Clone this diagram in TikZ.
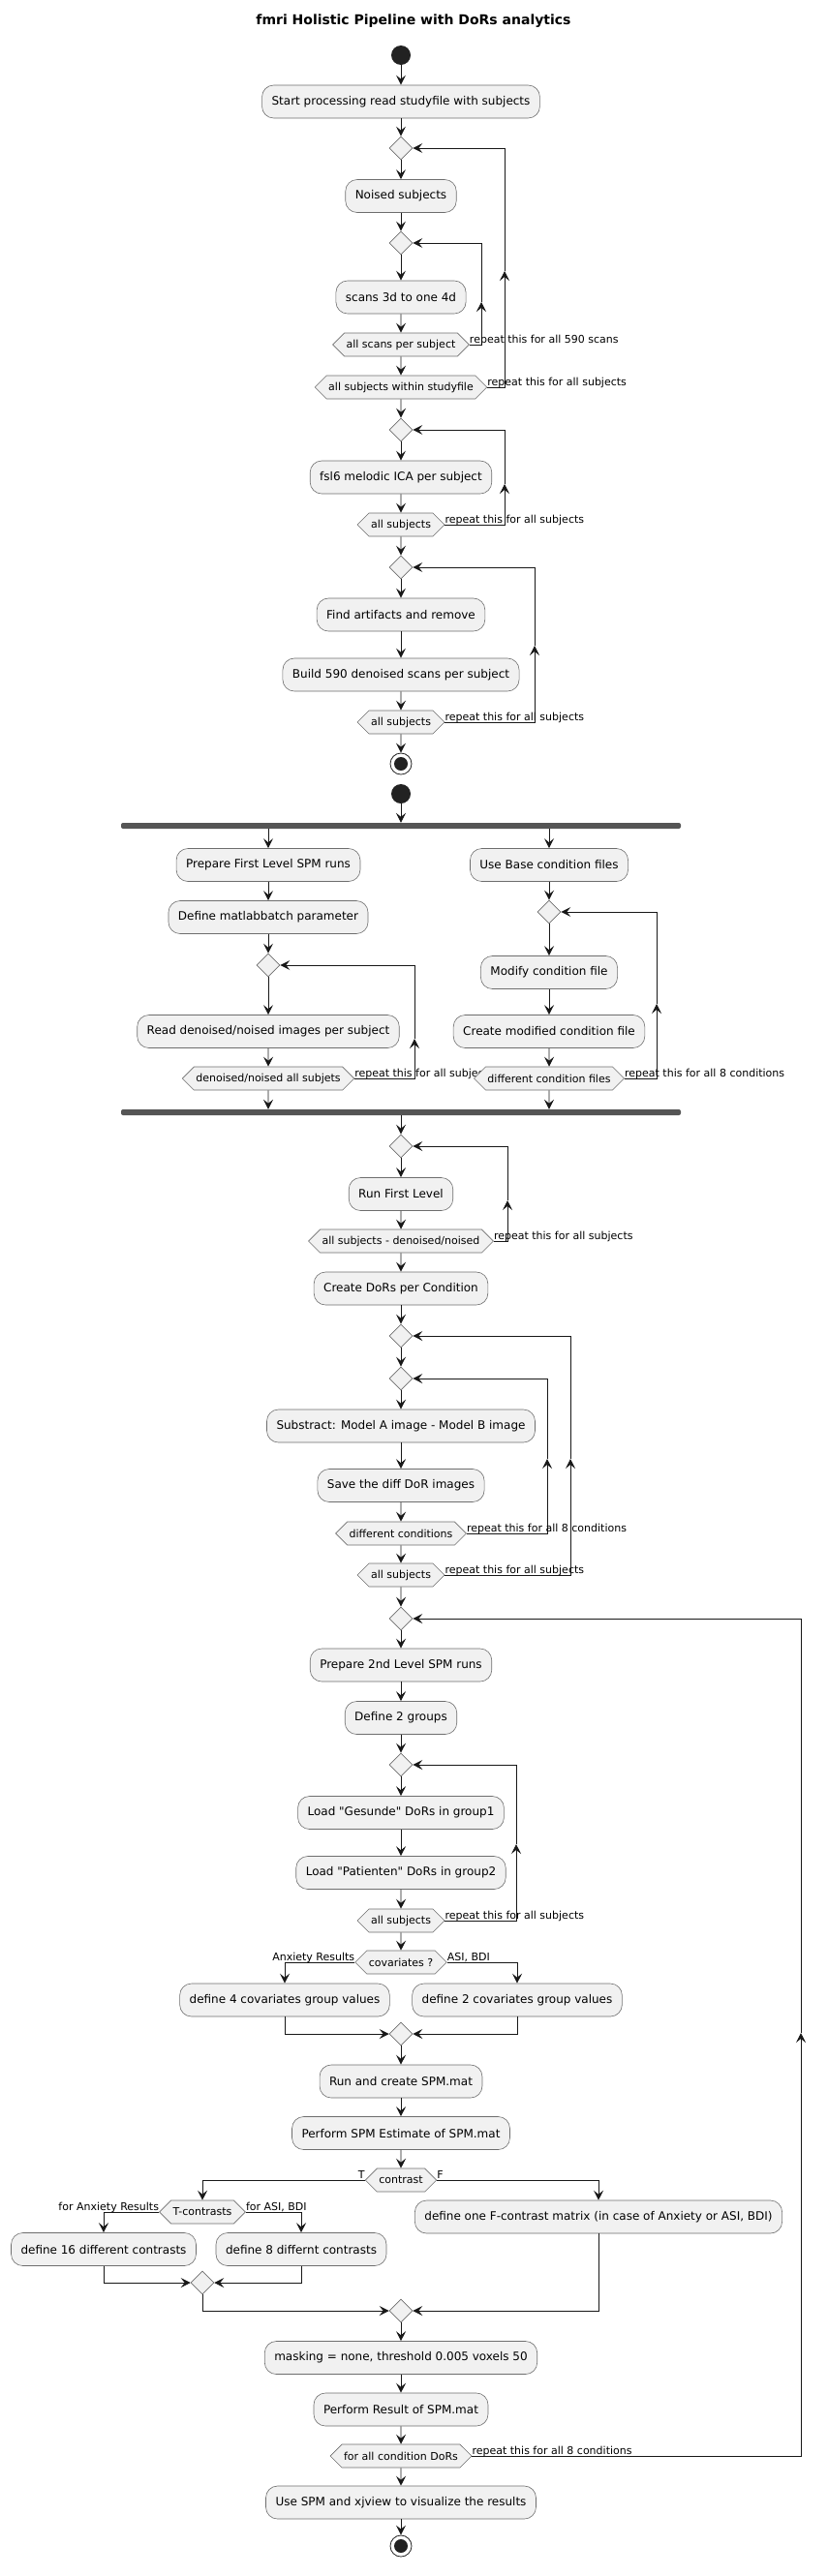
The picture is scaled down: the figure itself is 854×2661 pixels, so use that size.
\documentclass[tikz,border=0pt]{standalone}
\usepackage{fontspec}
\setmainfont{DejaVu Sans}
\usepackage{xcolor}
\usepackage{tikz}
\usetikzlibrary{positioning}
\usetikzlibrary{arrows.meta}
\usetikzlibrary{shapes.geometric,shapes.symbols}

\definecolor{boxfill}{HTML}{F1F1F1}
\definecolor{boxline}{HTML}{6E6E6E}
\definecolor{inkline}{HTML}{181818}
\definecolor{barfill}{HTML}{555555}
\definecolor{dotfill}{HTML}{222222}

\tikzset{
  act/.style={rectangle, rounded corners=12pt, draw=boxline, line width=0.6pt, fill=boxfill,
    minimum height=34pt, inner xsep=10pt, font=\fontsize{12}{14}\selectfont},
  hex/.style={signal, signal to=west and east, draw=boxline, line width=0.6pt, fill=boxfill,
    minimum height=24pt, inner xsep=2pt, inner ysep=0pt, font=\fontsize{11}{13}\selectfont},
  merge/.style={diamond, draw=boxline, line width=0.6pt, fill=boxfill, minimum width=24pt,
    minimum height=24pt, inner sep=0pt},
  startdot/.style={circle, fill=dotfill, minimum size=20pt, inner sep=0pt},
  stopdot/.style={circle, draw=dotfill, line width=0.8pt, fill=white, minimum size=22pt, inner sep=0pt,
    path picture={\fill[dotfill] (path picture bounding box.center) circle (7pt);}},
  bar/.style={rectangle, fill=barfill, rounded corners=2pt, minimum width=578pt, minimum height=6pt, inner sep=0pt},
  note/.style={font=\fontsize{11}{13}\selectfont, inner sep=0pt, anchor=base west, yshift=2pt},
  flow/.style={->, draw=inkline, line width=0.9pt},
}

\begin{document}
\begin{tikzpicture}[x=1pt, y=-1pt, >={Stealth[length=10pt, width=10pt, inset=4pt]}]
  \useasboundingbox (0,0) rectangle (854,2661);

  \node[font=\bfseries\fontsize{14}{16}\selectfont] (title) at (427,22) {fmri Holistic Pipeline with DoRs analytics};

  % Preprocessing part
  \node[startdot] (start) at (414,57) {};
  \node[act] (s1) at (414,105) {Start processing read studyfile with subjects};
  \node[merge] (d1) at (414,153) {};
  \node[act] (n1) at (414,202.5) {Noised subjects};
  \node[merge] (d2) at (414,251) {};
  \node[act] (n2) at (414,307) {scans 3d to one 4d};
  \node[hex] (h1) at (414,356) {all scans per subject};
  \node[hex] (h2) at (414,400) {all subjects within studyfile};
  \node[merge] (d3) at (414,444) {};
  \node[act] (n3) at (414,493) {fsl6 melodic ICA per subject};
  \node[hex] (h3) at (414,542) {all subjects};
  \node[merge] (d4) at (414,586) {};
  \node[act] (n4) at (414,635) {Find artifacts and remove};
  \node[act] (n5) at (414,697) {Build 590 denoised scans per subject};
  \node[hex] (h4) at (414,746) {all subjects};
  \node[stopdot] (stop1) at (414,789) {};

  % First level, two branches
  \node[startdot] (start2) at (414,820) {};
  \node[bar] (fork) at (414,853) {};
  \node[act] (p1) at (277,893.5) {Prepare First Level SPM runs};
  \node[act] (p2) at (277,947.5) {Define matlabbatch parameter};
  \node[merge] (dl) at (277,997) {};
  \node[act] (p3) at (277,1065.5) {Read denoised/noised images per subject};
  \node[hex] (hl) at (277,1114) {denoised/noised all subjets};
  \node[note] (tl) at (hl.east) {repeat this for all subjects}; % partly hidden by the right branch
  \node[act] (q1) at (567,893.5) {Use Base condition files};
  \node[merge] (dr) at (567,942) {};
  \node[act] (q2) at (567,1004.5) {Modify condition file};
  \node[act] (q3) at (567,1065.5) {Create modified condition file};
  \node[hex] (hr) at (567,1114) {different condition files};
  \node[bar] (join) at (414,1149) {};

  \node[merge] (d5) at (414,1184) {};
  \node[act] (n6) at (414,1233.5) {Run First Level};
  \node[hex] (h5) at (414,1282) {all subjects - denoised/noised};
  \node[act] (n7) at (414,1331) {Create DoRs per Condition};
  \node[merge] (d6) at (414,1380) {};
  \node[merge] (d7) at (414,1424) {};
  \node[act] (n8) at (414,1473) {Substract: Model A image - Model B image};
  \node[act] (n9) at (414,1534.5) {Save the diff DoR images};
  \node[hex] (h6) at (414,1584) {different conditions};
  \node[hex] (h7) at (414,1627) {all subjects};

  % Second level
  \node[merge] (d8) at (414,1672) {};
  \node[act] (n10) at (414,1720) {Prepare 2nd Level SPM runs};
  \node[act] (n11) at (414,1774.5) {Define 2 groups};
  \node[merge] (d9) at (414,1823) {};
  \node[act] (n12) at (414,1872.5) {Load \textquotedbl Gesunde\textquotedbl{} DoRs in group1};
  \node[act] (n13) at (414,1934.5) {Load \textquotedbl Patienten\textquotedbl{} DoRs in group2};
  \node[hex] (h8) at (414,1984) {all subjects};
  \node[hex] (cov) at (414,2027) {covariates ?};
  \node[act] (cov4) at (294,2066) {define 4 covariates group values};
  \node[act] (cov2) at (534,2066) {define 2 covariates group values};
  \node[merge] (m1) at (414,2101) {};
  \node[act] (n14) at (414,2150) {Run and create SPM.mat};
  \node[act] (n15) at (414,2203.5) {Perform SPM Estimate of SPM.mat};
  \node[hex] (con) at (414,2252) {contrast};
  \node[hex] (tcon) at (209,2285) {T-contrasts};
  \node[act] (fcon) at (618,2290) {define one F-contrast matrix (in case of Anxiety or ASI, BDI)};
  \node[act] (c16) at (107,2323.5) {define 16 different contrasts};
  \node[act] (c8) at (311,2323.5) {define 8 differnt contrasts};
  \node[merge] (m3) at (209,2358) {};
  \node[merge] (m4) at (414,2387) {};
  \node[act] (n16) at (414,2435.5) {masking = none, threshold 0.005 voxels 50};
  \node[act] (n17) at (414,2489) {Perform Result of SPM.mat};
  \node[hex] (h9) at (414,2537) {for all condition DoRs};
  \node[act] (n18) at (414,2585) {Use SPM and xjview to visualize the results};
  \node[stopdot] (stop2) at (414,2630) {};

  % straight arrows
  \foreach \a/\b in {start/s1, s1/d1, d1/n1, n1/d2, d2/n2, n2/h1, h1/h2, h2/d3, d3/n3, n3/h3, h3/d4,
      d4/n4, n4/n5, n5/h4, h4/stop1, start2/fork, p1/p2, p2/dl, dl/p3, p3/hl, q1/dr, dr/q2, q2/q3, q3/hr,
      join/d5, d5/n6, n6/h5, h5/n7, n7/d6, d6/d7, d7/n8, n8/n9, n9/h6, h6/h7, h7/d8, d8/n10, n10/n11,
      n11/d9, d9/n12, n12/n13, n13/h8, h8/cov, m1/n14, n14/n15, n15/con, m4/n16, n16/n17, n17/h9,
      h9/n18, n18/stop2}
    \draw[flow] (\a) -- (\b);

  % fork and join
  \draw[flow] (fork.south -| p1) -- (p1);
  \draw[flow] (fork.south -| q1) -- (q1);
  \draw[flow] (hl) -- (hl |- join.north);
  \draw[flow] (hr) -- (hr |- join.north);

  % repeat loops
  \coordinate (r1) at (497,312);
  \coordinate (r2) at (521,280);
  \coordinate (r3) at (521,500);
  \coordinate (r4) at (552,667);
  \coordinate (rl) at (428,1073);
  \coordinate (rr) at (678,1037);
  \coordinate (r5) at (524,1240);
  \coordinate (r6) at (565,1507);
  \coordinate (r7) at (589,1507);
  \coordinate (r8) at (533,1905);
  \coordinate (r9) at (827,2100);
  \foreach \h/\r/\d in {h1/r1/d2, h2/r2/d1, h3/r3/d3, h4/r4/d4, hl/rl/dl, hr/rr/dr, h5/r5/d5,
      h6/r6/d7, h7/r7/d6, h8/r8/d9, h9/r9/d8} {
    \draw[flow] (\h.east) -| (\r);
    \draw[flow] (\r) |- (\d);
  }
  \node[note] at (h1.east) {repeat this for all 590 scans};
  \node[note] at (h2.east) {repeat this for all subjects};
  \node[note] at (h3.east) {repeat this for all subjects};
  \node[note] at (h4.east) {repeat this for all subjects};
  \node[note] at (hr.east) {repeat this for all 8 conditions};
  \node[note] at (h5.east) {repeat this for all subjects};
  \node[note] at (h6.east) {repeat this for all 8 conditions};
  \node[note] at (h7.east) {repeat this for all subjects};
  \node[note] at (h8.east) {repeat this for all subjects};
  \node[note] at (h9.east) {repeat this for all 8 conditions};

  % covariates branch
  \draw[flow] (cov.west) -| (cov4);
  \draw[flow] (cov.east) -| (cov2);
  \draw[flow] (cov4) |- (m1);
  \draw[flow] (cov2) |- (m1);
  \node[note, anchor=base east] at (cov.west) {Anxiety Results};
  \node[note] at (cov.east) {ASI, BDI};

  % contrast branch
  \draw[flow] (con.west) -| (tcon);
  \draw[flow] (con.east) -| (fcon);
  \draw[flow] (tcon.west) -| (c16);
  \draw[flow] (tcon.east) -| (c8);
  \draw[flow] (c16) |- (m3);
  \draw[flow] (c8) |- (m3);
  \draw[flow] (m3) |- (m4);
  \draw[flow] (fcon) |- (m4);
  \node[note, anchor=base east] at (con.west) {T};
  \node[note] at (con.east) {F};
  \node[note, anchor=base east] at (tcon.west) {for Anxiety Results};
  \node[note] at (tcon.east) {for ASI, BDI};
\end{tikzpicture}
\end{document}
